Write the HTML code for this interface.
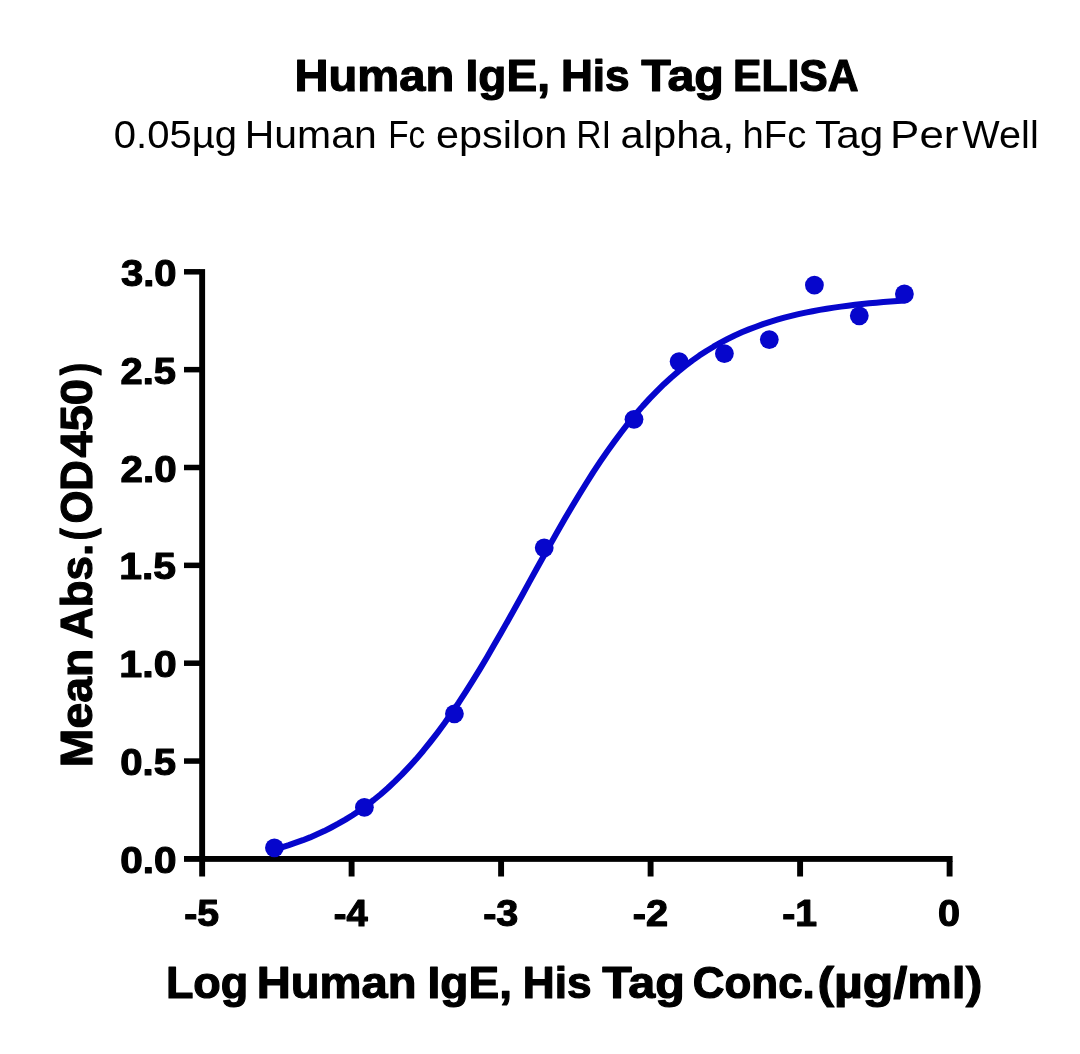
<!DOCTYPE html>
<html><head><meta charset="utf-8"><title>Human IgE, His Tag ELISA</title>
<style>html,body{margin:0;padding:0;background:#fff;}svg{display:block;will-change:transform;}text{font-family:"Liberation Sans",sans-serif;fill:#000;}.b{font-weight:bold;}.r{font-weight:normal;}</style></head><body>
<svg width="1080" height="1054" viewBox="0 0 1080 1054">
<rect x="0" y="0" width="1080" height="1054" fill="#ffffff"/>
<text class="b" font-size="44.8" transform="translate(294.44,90.90) scale(1.0531,1)" stroke="#000" stroke-width="1.2" stroke-linejoin="round" vector-effect="non-scaling-stroke">Human</text>
<text class="b" font-size="44.8" transform="translate(465.52,90.90) scale(1.0282,1)" stroke="#000" stroke-width="1.2" stroke-linejoin="round" vector-effect="non-scaling-stroke">IgE,</text>
<text class="b" font-size="44.8" transform="translate(560.94,90.90) scale(0.9861,1)" stroke="#000" stroke-width="1.2" stroke-linejoin="round" vector-effect="non-scaling-stroke">His</text>
<text class="b" font-size="44.8" transform="translate(641.36,90.90) scale(1.0824,1)" stroke="#000" stroke-width="1.2" stroke-linejoin="round" vector-effect="non-scaling-stroke">Tag</text>
<text class="b" font-size="44.8" transform="translate(732.94,90.90) scale(0.9526,1)" stroke="#000" stroke-width="1.2" stroke-linejoin="round" vector-effect="non-scaling-stroke">ELISA</text>
<text class="r" font-size="38.5" transform="translate(113.84,148.00) scale(1.0397,1)">0.05µg</text>
<text class="r" font-size="38.5" transform="translate(244.75,148.00) scale(1.0629,1)">Human</text>
<text class="r" font-size="38.5" transform="translate(388.27,148.00) scale(0.8653,1)">Fc</text>
<text class="r" font-size="38.5" transform="translate(436.02,148.00) scale(1.0759,1)">epsilon</text>
<text class="r" font-size="38.5" transform="translate(576.23,148.00) scale(0.9119,1)">RI</text>
<text class="r" font-size="38.5" transform="translate(620.51,148.00) scale(1.0832,1)">alpha,</text>
<text class="r" font-size="38.5" transform="translate(742.57,148.00) scale(0.9926,1)">hFc</text>
<text class="r" font-size="38.5" transform="translate(815.07,148.00) scale(1.0979,1)">Tag</text>
<text class="r" font-size="38.5" transform="translate(890.10,148.00) scale(1.1416,1)">Per</text>
<text class="r" font-size="38.5" transform="translate(962.35,148.00) scale(1.0301,1)">Well</text>
<g fill="#000">
<rect x="199.2" y="269.1" width="5.9" height="607.4"/>
<rect x="184" y="856" width="768.6" height="5.85"/>
<rect x="184" y="758.30" width="16" height="5.5"/>
<rect x="184" y="660.45" width="16" height="5.5"/>
<rect x="184" y="562.60" width="16" height="5.5"/>
<rect x="184" y="464.75" width="16" height="5.5"/>
<rect x="184" y="366.90" width="16" height="5.5"/>
<rect x="184" y="269.05" width="16" height="5.5"/>
<rect x="348.65" y="861" width="5.9" height="15.5"/>
<rect x="498.15" y="861" width="5.9" height="15.5"/>
<rect x="647.65" y="861" width="5.9" height="15.5"/>
<rect x="797.15" y="861" width="5.9" height="15.5"/>
<rect x="946.65" y="861" width="5.9" height="15.5"/>
</g>
<text class="b" font-size="37.6" transform="translate(120.28,873.00) scale(1.0772,1)" stroke="#000" stroke-width="1.2" stroke-linejoin="round" vector-effect="non-scaling-stroke">0.0</text>
<text class="b" font-size="37.6" transform="translate(120.30,775.15) scale(1.0664,1)" stroke="#000" stroke-width="1.2" stroke-linejoin="round" vector-effect="non-scaling-stroke">0.5</text>
<text class="b" font-size="37.6" transform="translate(119.32,677.30) scale(1.0962,1)" stroke="#000" stroke-width="1.2" stroke-linejoin="round" vector-effect="non-scaling-stroke">1.0</text>
<text class="b" font-size="37.6" transform="translate(119.35,579.45) scale(1.0850,1)" stroke="#000" stroke-width="1.2" stroke-linejoin="round" vector-effect="non-scaling-stroke">1.5</text>
<text class="b" font-size="37.6" transform="translate(120.51,481.60) scale(1.0729,1)" stroke="#000" stroke-width="1.2" stroke-linejoin="round" vector-effect="non-scaling-stroke">2.0</text>
<text class="b" font-size="37.6" transform="translate(120.52,383.75) scale(1.0621,1)" stroke="#000" stroke-width="1.2" stroke-linejoin="round" vector-effect="non-scaling-stroke">2.5</text>
<text class="b" font-size="37.6" transform="translate(121.00,285.90) scale(1.0632,1)" stroke="#000" stroke-width="1.2" stroke-linejoin="round" vector-effect="non-scaling-stroke">3.0</text>
<text class="b" font-size="37.6" transform="translate(184.19,926.00) scale(1.0421,1)" stroke="#000" stroke-width="1.2" stroke-linejoin="round" vector-effect="non-scaling-stroke">-5</text>
<text class="b" font-size="37.6" transform="translate(333.73,926.00) scale(1.0142,1)" stroke="#000" stroke-width="1.2" stroke-linejoin="round" vector-effect="non-scaling-stroke">-4</text>
<text class="b" font-size="37.6" transform="translate(483.17,926.00) scale(1.0523,1)" stroke="#000" stroke-width="1.2" stroke-linejoin="round" vector-effect="non-scaling-stroke">-3</text>
<text class="b" font-size="37.6" transform="translate(632.67,926.00) scale(1.0575,1)" stroke="#000" stroke-width="1.2" stroke-linejoin="round" vector-effect="non-scaling-stroke">-2</text>
<text class="b" font-size="37.6" transform="translate(782.19,926.00) scale(1.0421,1)" stroke="#000" stroke-width="1.2" stroke-linejoin="round" vector-effect="non-scaling-stroke">-1</text>
<text class="b" font-size="37.6" transform="translate(938.02,926.00) scale(1.0532,1)" stroke="#000" stroke-width="1.2" stroke-linejoin="round" vector-effect="non-scaling-stroke">0</text>
<text class="b" font-size="44.8" transform="translate(165.89,998.40) scale(1.0039,1)" stroke="#000" stroke-width="1.2" stroke-linejoin="round" vector-effect="non-scaling-stroke">Log</text>
<text class="b" font-size="44.8" transform="translate(256.74,998.40) scale(1.0524,1)" stroke="#000" stroke-width="1.2" stroke-linejoin="round" vector-effect="non-scaling-stroke">Human</text>
<text class="b" font-size="44.8" transform="translate(427.52,998.40) scale(1.0282,1)" stroke="#000" stroke-width="1.2" stroke-linejoin="round" vector-effect="non-scaling-stroke">IgE,</text>
<text class="b" font-size="44.8" transform="translate(522.84,998.40) scale(0.9861,1)" stroke="#000" stroke-width="1.2" stroke-linejoin="round" vector-effect="non-scaling-stroke">His</text>
<text class="b" font-size="44.8" transform="translate(602.26,998.40) scale(1.0824,1)" stroke="#000" stroke-width="1.2" stroke-linejoin="round" vector-effect="non-scaling-stroke">Tag</text>
<text class="b" font-size="44.8" transform="translate(692.79,998.40) scale(0.9808,1)" stroke="#000" stroke-width="1.2" stroke-linejoin="round" vector-effect="non-scaling-stroke">Conc.</text>
<text class="b" font-size="44.8" transform="translate(817.39,998.40) scale(1.1165,1)" stroke="#000" stroke-width="1.2" stroke-linejoin="round" vector-effect="non-scaling-stroke">(µg/ml)</text>
<text class="b" font-size="44.8" transform="translate(92.00,764.70) rotate(-90) translate(-2.50,0) scale(1.0345,1)" stroke="#000" stroke-width="1.2" stroke-linejoin="round" vector-effect="non-scaling-stroke">Mean</text>
<text class="b" font-size="44.8" transform="translate(92.00,764.70) rotate(-90) translate(125.82,0) scale(0.9785,1)" stroke="#000" stroke-width="1.2" stroke-linejoin="round" vector-effect="non-scaling-stroke">Abs.</text>
<text class="b" font-size="44.8" transform="translate(92.00,764.70) rotate(-90) translate(224.50,0) scale(0.8016,1)" stroke="#000" stroke-width="1.2" stroke-linejoin="round" vector-effect="non-scaling-stroke">(</text>
<text class="b" font-size="44.8" transform="translate(92.00,764.70) rotate(-90) translate(241.15,0) scale(0.9433,1)" stroke="#000" stroke-width="1.2" stroke-linejoin="round" vector-effect="non-scaling-stroke">OD</text>
<text class="b" font-size="44.8" transform="translate(92.00,764.70) rotate(-90) translate(307.12,0) scale(1.0526,1)" stroke="#000" stroke-width="1.2" stroke-linejoin="round" vector-effect="non-scaling-stroke">450</text>
<text class="b" font-size="44.8" transform="translate(92.00,764.70) rotate(-90) translate(389.66,0) scale(0.8063,1)" stroke="#000" stroke-width="1.2" stroke-linejoin="round" vector-effect="non-scaling-stroke">)</text>
<path d="M274.6,849.3 L281.7,847.3 L288.8,845.1 L295.8,842.7 L302.9,840.2 L310.0,837.4 L317.1,834.3 L324.2,831.1 L331.2,827.5 L338.3,823.7 L345.4,819.6 L352.5,815.2 L359.6,810.5 L366.6,805.4 L373.7,800.0 L380.8,794.2 L387.9,788.0 L394.9,781.4 L402.0,774.4 L409.1,766.9 L416.2,759.1 L423.3,750.7 L430.3,742.0 L437.4,732.8 L444.5,723.2 L451.6,713.1 L458.7,702.7 L465.7,691.8 L472.8,680.6 L479.9,669.1 L487.0,657.2 L494.0,645.1 L501.1,632.7 L508.2,620.2 L515.3,607.5 L522.4,594.7 L529.4,581.9 L536.5,569.0 L543.6,556.3 L550.7,543.6 L557.8,531.1 L564.8,518.8 L571.9,506.8 L579.0,495.0 L586.1,483.5 L593.1,472.4 L600.2,461.7 L607.3,451.4 L614.4,441.5 L621.5,432.0 L628.5,422.9 L635.6,414.3 L642.7,406.1 L649.8,398.4 L656.9,391.1 L663.9,384.2 L671.0,377.7 L678.1,371.6 L685.2,365.9 L692.2,360.6 L699.3,355.6 L706.4,351.0 L713.5,346.7 L720.6,342.7 L727.6,339.0 L734.7,335.5 L741.8,332.3 L748.9,329.4 L756.0,326.7 L763.0,324.1 L770.1,321.8 L777.2,319.7 L784.3,317.7 L791.3,315.9 L798.4,314.2 L805.5,312.6 L812.6,311.2 L819.7,309.9 L826.7,308.7 L833.8,307.6 L840.9,306.6 L848.0,305.7 L855.1,304.8 L862.1,304.1 L869.2,303.3 L876.3,302.7 L883.4,302.1 L890.4,301.5 L897.5,301.0 L904.6,300.6" fill="none" stroke="#0606cc" stroke-width="6" stroke-linecap="round" stroke-linejoin="round"/>
<circle cx="274.4" cy="847.8" r="9.4" fill="#0606cc"/>
<circle cx="364.4" cy="807.3" r="9.4" fill="#0606cc"/>
<circle cx="454.4" cy="713.8" r="9.4" fill="#0606cc"/>
<circle cx="544.2" cy="547.8" r="9.4" fill="#0606cc"/>
<circle cx="634.0" cy="419.3" r="9.4" fill="#0606cc"/>
<circle cx="679.1" cy="361.6" r="9.4" fill="#0606cc"/>
<circle cx="724.4" cy="353.6" r="9.4" fill="#0606cc"/>
<circle cx="769.3" cy="339.6" r="9.4" fill="#0606cc"/>
<circle cx="814.4" cy="285.1" r="9.4" fill="#0606cc"/>
<circle cx="859.3" cy="315.8" r="9.4" fill="#0606cc"/>
<circle cx="904.4" cy="294.0" r="9.4" fill="#0606cc"/>
</svg></body></html>
